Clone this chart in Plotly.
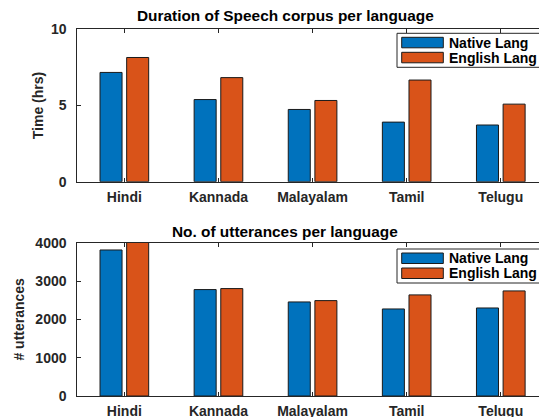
import plotly.graph_objects as go

languages = ["Hindi", "Kannada", "Malayalam", "Tamil", "Telugu"]
series_names = ["Native Lang", "English Lang"]
duration_native = [7.17, 5.39, 4.74, 3.91, 3.72]
duration_english = [8.15, 6.83, 5.33, 6.67, 5.09]
utt_native = [3810, 2777, 2454, 2271, 2297]
utt_english = [4020, 2803, 2489, 2638, 2742]
y1_ticks = [0, 5, 10]
y2_ticks = [0, 1000, 2000, 3000, 4000]

W, H = 539, 417
BLUE = "#0072BD"
ORANGE = "#D95319"
EDGE = "#1a1a1a"
AX = "#262626"
FONT = "Liberation Sans"

def px(x):
    return x / W

def py(y):
    return 1 - y / H

fig = go.Figure()
bar_w = 0.234
for (vals, col, off, name), (xa, ya) in [
    ((duration_native, BLUE, -0.2585, series_names[0]), ("x", "y")),
    ((duration_english, ORANGE, 0.0245, series_names[1]), ("x", "y")),
    ((utt_native, BLUE, -0.2585, series_names[0]), ("x2", "y2")),
    ((utt_english, ORANGE, 0.0245, series_names[1]), ("x2", "y2")),
]:
    fig.add_trace(go.Bar(
        x=languages, y=vals, name=name, xaxis=xa, yaxis=ya,
        width=bar_w, offset=off, showlegend=False, hoverinfo="skip",
        marker=dict(color=col, line=dict(color=EDGE, width=1)),
    ))

xr = [-0.5, 4.406]
common_x = dict(
    type="category", categoryarray=languages, range=xr,
    showline=True, linecolor=AX, linewidth=1, mirror="ticks",
    ticks="inside", ticklen=4, tickcolor=AX, showgrid=False,
    tickfont=dict(family=FONT, size=14, color="#262626", weight="bold"),
    automargin=False, domain=[px(77.3), 1], fixedrange=True,
    ticklabelstandoff=2,
)
common_y = dict(
    showline=True, linecolor=AX, linewidth=1,
    ticks="inside", ticklen=4, tickcolor=AX, showgrid=False, zeroline=False,
    tickfont=dict(family=FONT, size=14, color="#262626", weight="bold"),
    automargin=False, ticklabelstandoff=7, fixedrange=True,
)

fig.update_layout(
    width=W, height=H,
    margin=dict(l=0, r=0, t=0, b=0),
    plot_bgcolor="white", paper_bgcolor="white",
    barmode="overlay",
    xaxis=dict(**common_x, anchor="y"),
    xaxis2=dict(**common_x, anchor="y2"),
    yaxis=dict(**common_y, anchor="x", domain=[py(181.7), py(29.3)],
               range=[0, 10], tickvals=y1_ticks,
               title=dict(text="Time (hrs)", standoff=4,
                          font=dict(family=FONT, size=14, color="#262626", weight="bold"))),
    yaxis2=dict(**common_y, anchor="x2", domain=[py(396), py(242.7)],
                range=[0, 4000], tickvals=y2_ticks,
                title=dict(text="# utterances", standoff=7,
                           font=dict(family=FONT, size=14, color="#262626", weight="bold"))),
    showlegend=False,
)

# titles
for text, y in [("Duration of Speech corpus per language", 16.0),
                ("No. of utterances per language", 231)]:
    fig.add_annotation(text=text, x=px(285), y=py(y), xref="paper", yref="paper",
                       showarrow=False, xanchor="center", yanchor="middle",
                       font=dict(family=FONT, size=15.4, color="#000000", weight="bold"))

# custom legends
for top in [33.3, 249.0]:
    fig.add_shape(type="rect", xref="paper", yref="paper",
                  x0=px(397), x1=px(560), y0=py(top + 34), y1=py(top),
                  line=dict(color=AX, width=1), fillcolor="white", layer="above")
    for i, (name, col) in enumerate(zip(series_names, [BLUE, ORANGE])):
        ty = top + 4 + i * 15
        fig.add_shape(type="rect", xref="paper", yref="paper",
                      x0=px(401.7), x1=px(443.3), y0=py(ty + 10.5), y1=py(ty),
                      line=dict(color=EDGE, width=1), fillcolor=col, layer="above")
        fig.add_annotation(text=name, x=px(447), y=py(ty + 5.2), xref="paper", yref="paper",
                           showarrow=False, xanchor="left", yanchor="middle",
                           font=dict(family=FONT, size=14, color="#000000", weight="bold"))

fig.write_html(
    "out.html",
    config={"displayModeBar": False, "staticPlot": True},
    post_script="document.body.style.margin='0';"
                "document.body.style.overflow='hidden';"
                "document.documentElement.style.overflow='hidden';",
)
